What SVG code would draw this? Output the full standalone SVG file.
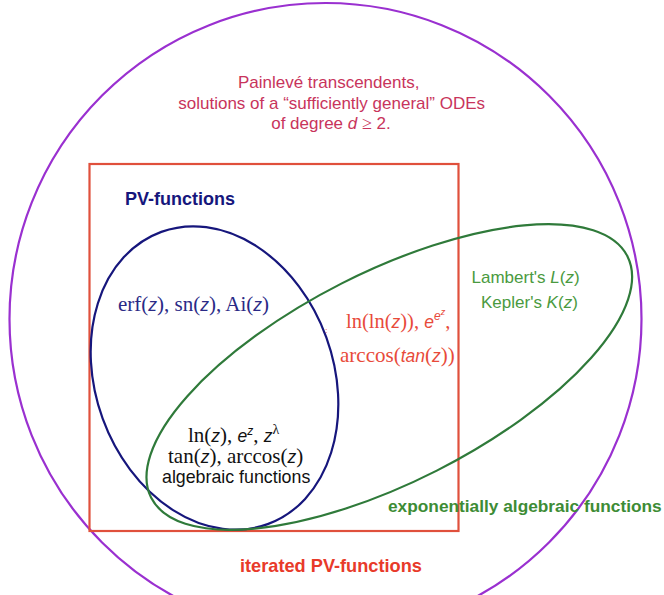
<svg xmlns="http://www.w3.org/2000/svg" width="664" height="595" viewBox="0 0 664 595">
<style>
.sans{font-family:"Liberation Sans","DejaVu Sans",sans-serif;font-size:17px}
.bold{font-weight:bold}
.ser{font-family:"Liberation Serif","DejaVu Serif",serif;font-size:21px}
.it{font-family:"Liberation Sans","DejaVu Sans",sans-serif;font-style:italic;font-size:17.5px}
.shape{fill:none;stroke-width:2.2}
</style>
<rect width="664" height="595" fill="#ffffff"/>
<g id="painleve">
<circle class="shape" cx="325.5" cy="319" r="316" stroke="#9a30d0"/>
<text class="sans" fill="#c8345c" text-anchor="middle">
<tspan x="331" y="88">Painlevé transcendents,</tspan>
<tspan x="334" y="109">solutions of a “sufficiently general” ODEs</tspan>
<tspan x="331" y="129">of degree <tspan class="it" style="font-size:17px">d</tspan> <tspan class="ser" style="font-size:18px">≥</tspan> 2.</tspan>
</text>
</g>
<g id="iterated-pv">
<rect class="shape" x="89.5" y="164" width="369" height="367" stroke="#e0503c"/>
<text class="sans bold" x="240" y="572" fill="#e83a2a" style="font-size:18.2px">iterated PV-functions</text>
<text class="ser" x="346" y="328" fill="#e84a3a" style="font-size:20.5px">ln(ln(<tspan class="it">z</tspan>)), <tspan class="it">e</tspan><tspan class="it" style="font-size:12px" dy="-8">e</tspan><tspan class="it" style="font-size:9px" dy="-5">z</tspan><tspan dy="13">,</tspan></text>
<text class="ser" x="340" y="362" fill="#e84a3a">arccos(<tspan class="it">tan</tspan>(<tspan class="it">z</tspan>))</text>
<text class="ser" x="325" y="333" fill="#e84a3a" style="font-size:9px">:</text>
</g>
<g id="pv-functions">
<ellipse class="shape" cx="214.5" cy="378" rx="119" ry="155.5" transform="rotate(-20 214.5 378)" stroke="#16167c"/>
<text class="sans bold" x="125" y="205" fill="#16167c" style="font-size:18px">PV-functions</text>
<text class="ser" x="118" y="311" fill="#2a2a86">erf(<tspan class="it">z</tspan>), sn(<tspan class="it">z</tspan>), Ai(<tspan class="it">z</tspan>)</text>
</g>
<g id="exp-algebraic">
<ellipse class="shape" cx="389.3" cy="377" rx="267" ry="105" transform="rotate(-26.9 389.3 377)" stroke="#2f7a3a"/>
<text class="sans" x="471.5" y="283" fill="#4a9a40">Lambert's <tspan class="it" style="font-size:17px">L</tspan>(<tspan class="it" style="font-size:17px">z</tspan>)</text>
<text class="sans" x="481" y="308" fill="#4a9a40">Kepler's <tspan class="it" style="font-size:17px">K</tspan>(<tspan class="it" style="font-size:17px">z</tspan>)</text>
<text class="sans bold" x="388" y="512" fill="#3d8c35" style="font-size:17.3px">exponentially algebraic functions</text>
</g>
<g id="algebraic">
<text class="ser" x="188" y="442" fill="#111111">ln(<tspan class="it">z</tspan>), <tspan class="it">e</tspan><tspan class="it" style="font-size:12px" dy="-7">z</tspan><tspan dy="7">, </tspan><tspan class="it">z</tspan><tspan style="font-size:14px" dy="-8">λ</tspan></text>
<text class="ser" x="168" y="463" fill="#111111">tan(<tspan class="it">z</tspan>), arccos(<tspan class="it">z</tspan>)</text>
<text class="sans" x="162" y="483" fill="#111111" style="font-size:17.8px">algebraic functions</text>
</g>
<g id="connectors"/>
</svg>
